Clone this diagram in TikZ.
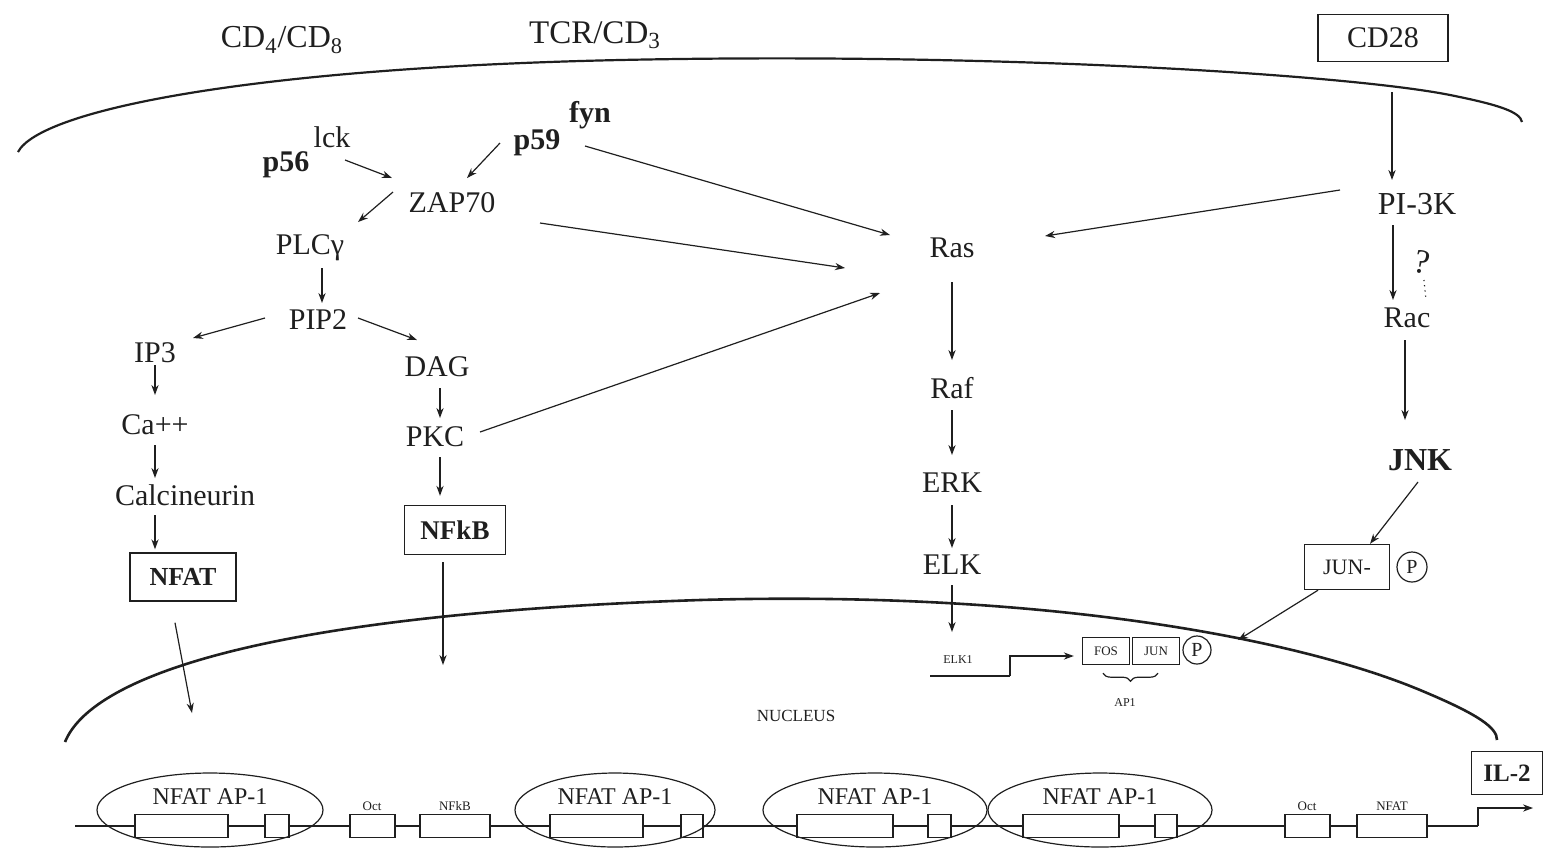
\documentclass[tikz,border=0pt]{standalone}
\usepackage{fontspec}
\setmainfont{Liberation Serif}
\usetikzlibrary{arrows.meta,calc,shapes.geometric,decorations.pathreplacing}
\definecolor{ink}{gray}{0.12}
\begin{document}
\begin{tikzpicture}[x=0.5pt,y=-0.5pt,
  every node/.style={inner sep=0pt, text=ink},
  lbl/.style={font=\fontsize{15}{18}\selectfont},
  lblb/.style={font=\bfseries\fontsize{15}{18}\selectfont},
  tiny/.style={font=\fontsize{6.5}{8}\selectfont},
  framed/.style={draw=ink, line width=0.7pt},
  arr/.style={-{Stealth[length=5pt,width=3.6pt]}, draw=ink, line width=0.6pt},
  memb/.style={draw=ink, line width=1.1pt},
  dnabox/.style={draw=ink, fill=white, line width=0.6pt, minimum height=11.5pt},
  site/.style={draw=ink, line width=0.6pt, ellipse, minimum height=37pt},
  pcirc/.style={draw=ink, circle, line width=0.6pt, font=\fontsize{10}{12}\selectfont}
]
\useasboundingbox (0,0) rectangle (1546,848);

% ---------- plasma membrane ----------
\draw[memb] (18,152) .. controls (40,110) and (250,68) .. (620,60)
  .. controls (1000,52) and (1350,75) .. (1450,95)
  .. controls (1500,105) and (1520,112) .. (1522,122);

\node[font=\fontsize{16}{19}\selectfont] (cd48) at (282,40) {CD\textsubscript{4}/CD\textsubscript{8}};
\node[font=\fontsize{16.5}{19}\selectfont] (tcr) at (595,35) {TCR/CD\textsubscript{3}};
\node[lbl, framed, minimum width=65pt, minimum height=23.5pt] (cd28) at (1383,38) {CD28};

% ---------- nuclear membrane ----------
\draw[memb, line width=1.3pt] (65,742) .. controls (90,680) and (250,615) .. (700,600)
  .. controls (1050,590) and (1300,640) .. (1420,690)
  .. controls (1480,715) and (1497,728) .. (1497,740);

% ---------- TCR proximal kinases ----------
\node[lbl] (lck) at (332,137) {lck};
\node[lblb] (p56) at (286,165) {p56};
\node[lblb] (fyn) at (590,115) {fyn};
\node[lblb] (p59) at (537,143) {p59};
\node[lbl] (zap) at (452,203) {ZAP70};
\node[lbl] (plc) at (310,248) {PLCγ};
\node[lbl] (pip2) at (318,320) {PIP2};
\node[lbl] (ip3) at (155,353) {IP3};
\node[lbl] (dag) at (437,367) {DAG};
\node[lbl] (ca) at (155,425) {Ca++};
\node[lbl] (pkc) at (435,437) {PKC};
\node[lbl] (calc) at (185,495) {Calcineurin};
\node[font=\bfseries\fontsize{13}{16}\selectfont, framed, minimum width=53pt, minimum height=24pt] (nfat) at (183,577) {NFAT};
\node[font=\bfseries\fontsize{13.5}{16}\selectfont, framed, minimum width=50.5pt, minimum height=24.5pt] (nfkb) at (455,530) {NFkB};

% ---------- Ras / MAPK cascade ----------
\node[lbl] (ras) at (952,248) {Ras};
\node[lbl] (raf) at (952,388) {Raf};
\node[lbl] (erk) at (952,483) {ERK};
\node[lbl] (elk) at (952,565) {ELK};

% ---------- CD28 branch ----------
\node[font=\fontsize{16}{19}\selectfont] (pi3k) at (1417,204) {PI-3K};
\node[font=\fontsize{17}{19}\selectfont, rotate=-12] (quest) at (1422,262) {?};
\node[lbl] (rac) at (1407,318) {Rac};
\node[font=\bfseries\fontsize{16}{19}\selectfont] (jnk) at (1420,460) {JNK};
\node[font=\fontsize{11}{13}\selectfont, framed, minimum width=42.5pt, minimum height=22.5pt] (jun) at (1347,567) {JUN-};
\node[pcirc, minimum size=15pt] (jp) at (1412,567) {P};

% ---------- nuclear factors ----------
\node[font=\fontsize{6}{7}\selectfont] (elk1) at (958,660) {ELK1};
\coordinate (elkstart) at (930,676);
\node[framed, font=\fontsize{6.5}{8}\selectfont, minimum width=23.5pt, minimum height=13.5pt] (fos) at (1106,651) {FOS};
\node[framed, font=\fontsize{6.5}{8}\selectfont, minimum width=23.5pt, minimum height=13.5pt] (jun2) at (1156,651) {JUN};
\node[pcirc, minimum size=14pt] (p2) at (1197,650) {P};
\node[font=\fontsize{6}{7}\selectfont] (ap1) at (1125,703) {AP1};
\node[font=\fontsize{8.5}{10}\selectfont] (nucl) at (796,716) {NUCLEUS};
\node[font=\bfseries\fontsize{12.5}{15}\selectfont, framed, minimum width=35.5pt, minimum height=21.5pt] (il2) at (1507,773) {IL-2};

% ---------- arrows ----------
\draw[arr] ($(lck)+(13,23)$) -- ($(zap)+(-60,-25)$);
\draw[arr] ($(p59)+(-37,0)$) -- ($(zap)+(15,-25)$);
\draw[arr] ($(zap)+(-59,-11)$) -- ($(plc)+(48,-26)$);
\draw[arr] ($(p59)+(48,3)$) -- ($(ras)+(-62,-13)$);
\draw[arr] ($(zap)+(88,20)$) -- ($(ras)+(-107,20)$);
\draw[arr] ($(pkc)+(45,-5)$) -- ($(ras)+(-72,45)$);
\draw[arr] ($(pi3k)+(-77,-14)$) -- ($(ras)+(93,-12)$);
\draw[arr, line width=1.2pt] ($(cd28)+(9,54)$) -- ($(pi3k)+(-25,-24)$);
\draw[arr] ($(pi3k)+(-24,21)$) -- ($(rac)+(-14,-18)$);
\draw[ink, dotted, line width=0.6pt] ($(quest)+(2,18)$) -- ($(quest)+(4,38)$);
\draw[arr] ($(rac)+(-2,22)$) -- ($(jnk)+(-15,-40)$);
\draw[arr] ($(jnk)+(-2,22)$) -- ($(jun.north)+(23,0)$);
\coordinate (junin) at (1238,640);
\draw[arr] ($(jun.south)+(-29,0)$) -- (junin);

\draw[arr] ($(plc)+(12,20)$) -- ($(pip2)+(4,-17)$);
\draw[arr] ($(pip2)+(-53,-2)$) -- ($(ip3)+(38,-15)$);
\draw[arr] ($(pip2)+(40,-2)$) -- ($(dag)+(-20,-27)$);
\draw[arr] ($(ip3)+(0,12)$) -- ($(ca)+(0,-30)$);
\draw[arr] ($(ca)+(0,20)$) -- ($(calc)+(-30,-17)$);
\draw[arr] ($(calc)+(-30,20)$) -- ($(nfat.north)+(-28,-3)$);
\coordinate (nfatin) at (192,713);
\draw[arr] ($(nfat.south)+(-8,21)$) -- (nfatin);
\draw[arr] ($(dag)+(3,21)$) -- ($(pkc)+(5,-19)$);
\draw[arr] ($(pkc)+(5,20)$) -- ($(nfkb.north)+(-15,-9)$);
\coordinate (nfkbin) at (443,665);
\draw[arr] ($(nfkb.south)+(-12,7)$) -- (nfkbin);

\draw[arr] ($(ras)+(0,34)$) -- ($(raf)+(0,-28)$);
\draw[arr] ($(raf)+(0,22)$) -- ($(erk)+(0,-28)$);
\draw[arr] ($(erk)+(0,22)$) -- ($(elk)+(0,-17)$);
\coordinate (elkin) at (952,632);
\draw[arr] ($(elk)+(0,20)$) -- (elkin);

\draw[ink, line width=1.3pt] (elkstart) -- ++(80,0) coordinate (elkstep);
\draw[arr] (elkstep) -- ++(0,-20) -- ($(fos.west)+(-8,5)$);
\draw[ink, line width=0.6pt, decorate, decoration={brace, mirror, amplitude=4pt}]
  ($(fos.south)+(-3,8)$) -- ($(jun2.south)+(2,8)$);

% ---------- IL-2 promoter ----------
\coordinate (dnal) at (75,826);
\coordinate (dnar) at (1478,826);
\draw[ink, line width=0.9pt] (dnal) -- (dnar);
\draw[arr] (dnar) -- ++(0,-18) -- ++(55,0);

\foreach \nm/\cx/\w in {a1/181.5/46.5, a2/277/12, oct1/372.5/22.5, kb1/455/35,
    b1/596.5/46.5, b2/692/11, c1/845/48, c2/939.5/11.5, d1/1071/48, d2/1166/11,
    oct2/1307.5/22.5, nf2/1392/35}
  \node[dnabox, minimum width=\w pt] (\nm) at (\cx,826) {};

\node[tiny] (octl1) at (372,806) {Oct};
\node[tiny] (kbl) at (455,806) {NFkB};
\node[tiny] (octl2) at (1307,806) {Oct};
\node[tiny] (nfl2) at (1392,806) {NFAT};

\node[site, minimum width=113pt] (s1) at (210,810) {};
\node[site, minimum width=100pt] (s2) at (615,810) {};
\node[site, minimum width=112pt] (s3) at (875,810) {};
\node[site, minimum width=112pt] (s4) at (1100,810) {};
\foreach \s in {s1,s2,s3,s4}
  \node[font=\fontsize{12}{14}\selectfont] at ($(\s)+(0,-13)$) {NFAT AP-1};
\end{tikzpicture}
\end{document}
